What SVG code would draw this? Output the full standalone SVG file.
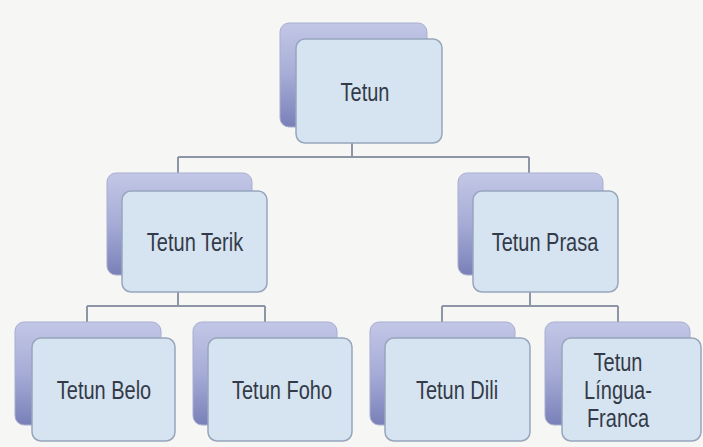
<svg xmlns="http://www.w3.org/2000/svg" width="703" height="447" viewBox="0 0 703 447">
<defs>
<linearGradient id="bg" x1="0" y1="0" x2="0" y2="1">
<stop offset="0" stop-color="#c3c7e6"/>
<stop offset="0.5" stop-color="#a6acd6"/>
<stop offset="1" stop-color="#7980b8"/>
</linearGradient>
<style>
.back{fill:url(#bg);stroke:#a9aed0;stroke-width:1}
.front{fill:#d6e3f0;stroke:#97a6bc;stroke-width:1.5}
.t{font-family:"Liberation Sans",Arial,sans-serif;font-size:20px;fill:#333b48;text-anchor:middle}
.c{fill:none;stroke:#8d95a6;stroke-width:2}
</style>
</defs>
<rect width="703" height="447" fill="#f6f6f4"/>
<g id="connectors">
<path class="c" d="M352 143V157M178 157H529M178 157V174M529 157V174"/>
<path class="c" d="M178 292V306M87 306H265M87 306V322M265 306V322"/>
<path class="c" d="M530 292V306M442 306H618M442 306V322M618 306V322"/>
</g>
<g id="n-tetun">
<rect class="back" x="280" y="23" width="147" height="104" rx="9"/>
<rect class="front" x="296" y="39" width="146" height="104" rx="9"/>
<text class="t" transform="translate(365 101) scale(1 1.25)">Tetun</text>
</g>
<g id="n-terik">
<rect class="back" x="107" y="173" width="145" height="102" rx="9"/>
<rect class="front" x="122" y="191" width="145" height="101" rx="9"/>
<text class="t" transform="translate(195 251) scale(1 1.25)">Tetun Terik</text>
</g>
<g id="n-prasa">
<rect class="back" x="458" y="173" width="145" height="102" rx="9"/>
<rect class="front" x="473" y="191" width="145" height="101" rx="9"/>
<text class="t" transform="translate(545 251) scale(1 1.25)">Tetun Prasa</text>
</g>
<g id="n-belo">
<rect class="back" x="15" y="322" width="146" height="103" rx="9"/>
<rect class="front" x="32" y="338" width="143" height="103" rx="9"/>
<text class="t" transform="translate(104 399) scale(1 1.25)">Tetun Belo</text>
</g>
<g id="n-foho">
<rect class="back" x="193" y="322" width="144" height="103" rx="9"/>
<rect class="front" x="208" y="338" width="144" height="103" rx="9"/>
<text class="t" transform="translate(282 399) scale(1 1.25)">Tetun Foho</text>
</g>
<g id="n-dili">
<rect class="back" x="370" y="322" width="145" height="103" rx="9"/>
<rect class="front" x="385" y="338" width="145" height="103" rx="9"/>
<text class="t" transform="translate(457 399) scale(1 1.25)">Tetun Dili</text>
</g>
<g id="n-lingua">
<rect class="back" x="545" y="322" width="145" height="103" rx="9"/>
<rect class="front" x="562" y="338" width="139" height="103" rx="9"/>
<text class="t" transform="translate(618 371) scale(1 1.25)">Tetun</text>
<text class="t" transform="translate(618 399) scale(1 1.25)">Língua-</text>
<text class="t" transform="translate(618 427) scale(1 1.25)">Franca</text>
</g>
</svg>
